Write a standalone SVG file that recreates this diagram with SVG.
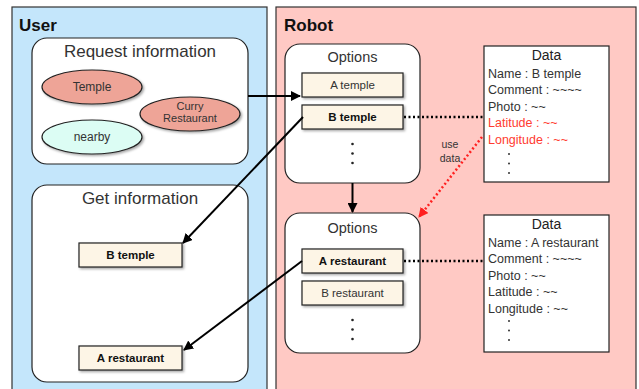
<svg xmlns="http://www.w3.org/2000/svg" width="639" height="389" viewBox="0 0 639 389">
  <defs>
    <filter id="shadow" x="-10%" y="-20%" width="130%" height="160%">
      <feDropShadow dx="1.5" dy="1.5" stdDeviation="1" flood-color="#000" flood-opacity="0.35"/>
    </filter>
    <marker id="arrow" viewBox="0 0 10 10" refX="9" refY="5" markerWidth="10" markerHeight="10" markerUnits="userSpaceOnUse" orient="auto">
      <path d="M0,0 L10,5 L0,10 Z" fill="#000"/>
    </marker>
    <marker id="arrowRed" viewBox="0 0 10 10" refX="9" refY="5" markerWidth="10" markerHeight="10" markerUnits="userSpaceOnUse" orient="auto">
      <path d="M0,0 L10,5 L0,10 Z" fill="#ff2020"/>
    </marker>
  </defs>
  <style>
    text { font-family: "Liberation Sans", Arial, sans-serif; fill: #222; }
    .lane-title { font-size: 17px; font-weight: bold; fill: #111; }
    .group { fill: #fff; stroke: #222; stroke-width: 1.2; }
    .group-title { font-size: 17px; fill: #333; text-anchor: middle; }
    .item { fill: #fdf5e6; stroke: #222; stroke-width: 1.2; filter: url(#shadow); }
    .item-text { font-size: 11.5px; text-anchor: middle; fill: #333; }
    .item-bold { font-size: 11.5px; text-anchor: middle; font-weight: bold; fill: #111; }
    .tag { stroke: #222; stroke-width: 1.2; filter: url(#shadow); }
    .tag-text { font-size: 12px; text-anchor: middle; fill: #333; }
    .tag-small { font-size: 11px; text-anchor: middle; fill: #333; }
    .data { fill: #fff; stroke: #222; stroke-width: 1.2; }
    .data-title { font-size: 14px; text-anchor: middle; fill: #222; }
    .data-line { font-size: 12.5px; fill: #333; }
    .data-red { font-size: 12.5px; fill: #ff3b30; }
    .note { font-size: 10.5px; text-anchor: middle; fill: #333; }
    .link { stroke: #000; stroke-width: 2; fill: none; marker-end: url(#arrow); }
    .dotted { stroke: #000; stroke-width: 2.5; stroke-dasharray: 2 2.5; fill: none; }
    .dotted-red { stroke: #ff2020; stroke-width: 2.5; stroke-dasharray: 2 2.5; fill: none; marker-end: url(#arrowRed); }
  </style>

  <!-- swimlanes -->
  <g id="user-lane">
    <rect x="12" y="7" width="255" height="390" fill="#c4e6fb" stroke="#333" stroke-width="1.2"/>
    <text class="lane-title" x="19" y="31">User</text>
  </g>
  <g id="robot-lane">
    <rect x="276" y="7" width="360" height="390" fill="#ffc9c4" stroke="#333" stroke-width="1.2"/>
    <text class="lane-title" x="284" y="31">Robot</text>
  </g>

  <!-- user side -->
  <g id="request-information">
    <rect class="group" x="32" y="38" width="216" height="126" rx="15"/>
    <text class="group-title" x="140" y="57">Request information</text>
    <g id="tag-temple">
      <ellipse class="tag" cx="92" cy="87" rx="50" ry="17" fill="#eea497"/>
      <text class="tag-text" x="92" y="91">Temple</text>
    </g>
    <g id="tag-curry">
      <ellipse class="tag" cx="190" cy="114" rx="50" ry="17" fill="#eea497"/>
      <text class="tag-small" x="190" y="110">Curry</text>
      <text class="tag-small" x="190" y="122">Restaurant</text>
    </g>
    <g id="tag-nearby">
      <ellipse class="tag" cx="92" cy="137" rx="50" ry="17" fill="#dcfdf4"/>
      <text class="tag-text" x="92" y="141">nearby</text>
    </g>
  </g>

  <g id="get-information">
    <rect class="group" x="32" y="185" width="216" height="197" rx="15"/>
    <text class="group-title" x="140" y="204">Get information</text>
    <g id="got-b-temple">
      <rect class="item" x="79" y="243" width="103" height="24"/>
      <text class="item-bold" x="130.5" y="259">B temple</text>
    </g>
    <g id="got-a-restaurant">
      <rect class="item" x="79" y="346" width="103" height="24"/>
      <text class="item-bold" x="130.5" y="362">A restaurant</text>
    </g>
  </g>

  <!-- robot side -->
  <g id="options-temples">
    <rect class="group" x="285" y="44" width="135" height="139" rx="15"/>
    <text class="group-title" x="352.5" y="62" style="font-size:14.5px">Options</text>
    <g id="opt-a-temple">
      <rect class="item" x="302" y="73" width="101" height="24"/>
      <text class="item-text" x="352.5" y="89">A temple</text>
    </g>
    <g id="opt-b-temple">
      <rect class="item" x="302" y="105" width="101" height="24"/>
      <text class="item-bold" x="352.5" y="121">B temple</text>
    </g>
    <circle cx="352.5" cy="144" r="1.3" fill="#222"/>
    <circle cx="352.5" cy="153.5" r="1.3" fill="#222"/>
    <circle cx="352.5" cy="163" r="1.3" fill="#222"/>
  </g>

  <g id="options-restaurants">
    <rect class="group" x="285" y="213" width="135" height="140" rx="15"/>
    <text class="group-title" x="352.5" y="233" style="font-size:14.5px">Options</text>
    <g id="opt-a-restaurant">
      <rect class="item" x="302" y="249" width="101" height="24"/>
      <text class="item-bold" x="352.5" y="265">A restaurant</text>
    </g>
    <g id="opt-b-restaurant">
      <rect class="item" x="302" y="281" width="101" height="24"/>
      <text class="item-text" x="352.5" y="297">B restaurant</text>
    </g>
    <circle cx="352.5" cy="320" r="1.3" fill="#222"/>
    <circle cx="352.5" cy="329.5" r="1.3" fill="#222"/>
    <circle cx="352.5" cy="339" r="1.3" fill="#222"/>
  </g>

  <g id="data-b-temple">
    <rect class="data" x="484" y="46" width="125" height="136"/>
    <text class="data-title" x="546.5" y="60">Data</text>
    <text class="data-line" x="488" y="77.5">Name : B temple</text>
    <text class="data-line" x="488" y="94">Comment : ~~~~</text>
    <text class="data-line" x="488" y="110.5">Photo : ~~</text>
    <text class="data-red" x="488" y="127">Latitude : ~~</text>
    <text class="data-red" x="488" y="143.5">Longitude : ~~</text>
    <circle cx="509" cy="154" r="1" fill="#333"/>
    <circle cx="509" cy="163.5" r="1" fill="#333"/>
    <circle cx="509" cy="173" r="1" fill="#333"/>
  </g>

  <g id="data-a-restaurant">
    <rect class="data" x="484" y="215" width="125" height="137"/>
    <text class="data-title" x="546.5" y="229">Data</text>
    <text class="data-line" x="488" y="246.5">Name : A restaurant</text>
    <text class="data-line" x="488" y="263">Comment : ~~~~</text>
    <text class="data-line" x="488" y="279.5">Photo : ~~</text>
    <text class="data-line" x="488" y="296">Latitude : ~~</text>
    <text class="data-line" x="488" y="312.5">Longitude : ~~</text>
    <circle cx="509" cy="321" r="1" fill="#333"/>
    <circle cx="509" cy="330.5" r="1" fill="#333"/>
    <circle cx="509" cy="340" r="1" fill="#333"/>
  </g>

  <!-- connectors -->
  <g id="connectors">
    <line class="link" x1="248" y1="96" x2="300" y2="96"/>
    <line class="link" x1="303" y1="117" x2="183" y2="243"/>
    <line class="link" x1="352.5" y1="183" x2="352.5" y2="212"/>
    <line class="link" x1="302" y1="261" x2="184" y2="350"/>
    <line class="dotted" x1="404" y1="117" x2="484" y2="117"/>
    <line class="dotted" x1="404" y1="261" x2="484" y2="261"/>
    <line class="dotted-red" x1="482" y1="137" x2="419" y2="217"/>
    <text class="note" x="450" y="148">use</text>
    <text class="note" x="450" y="162">data</text>
  </g>
</svg>
